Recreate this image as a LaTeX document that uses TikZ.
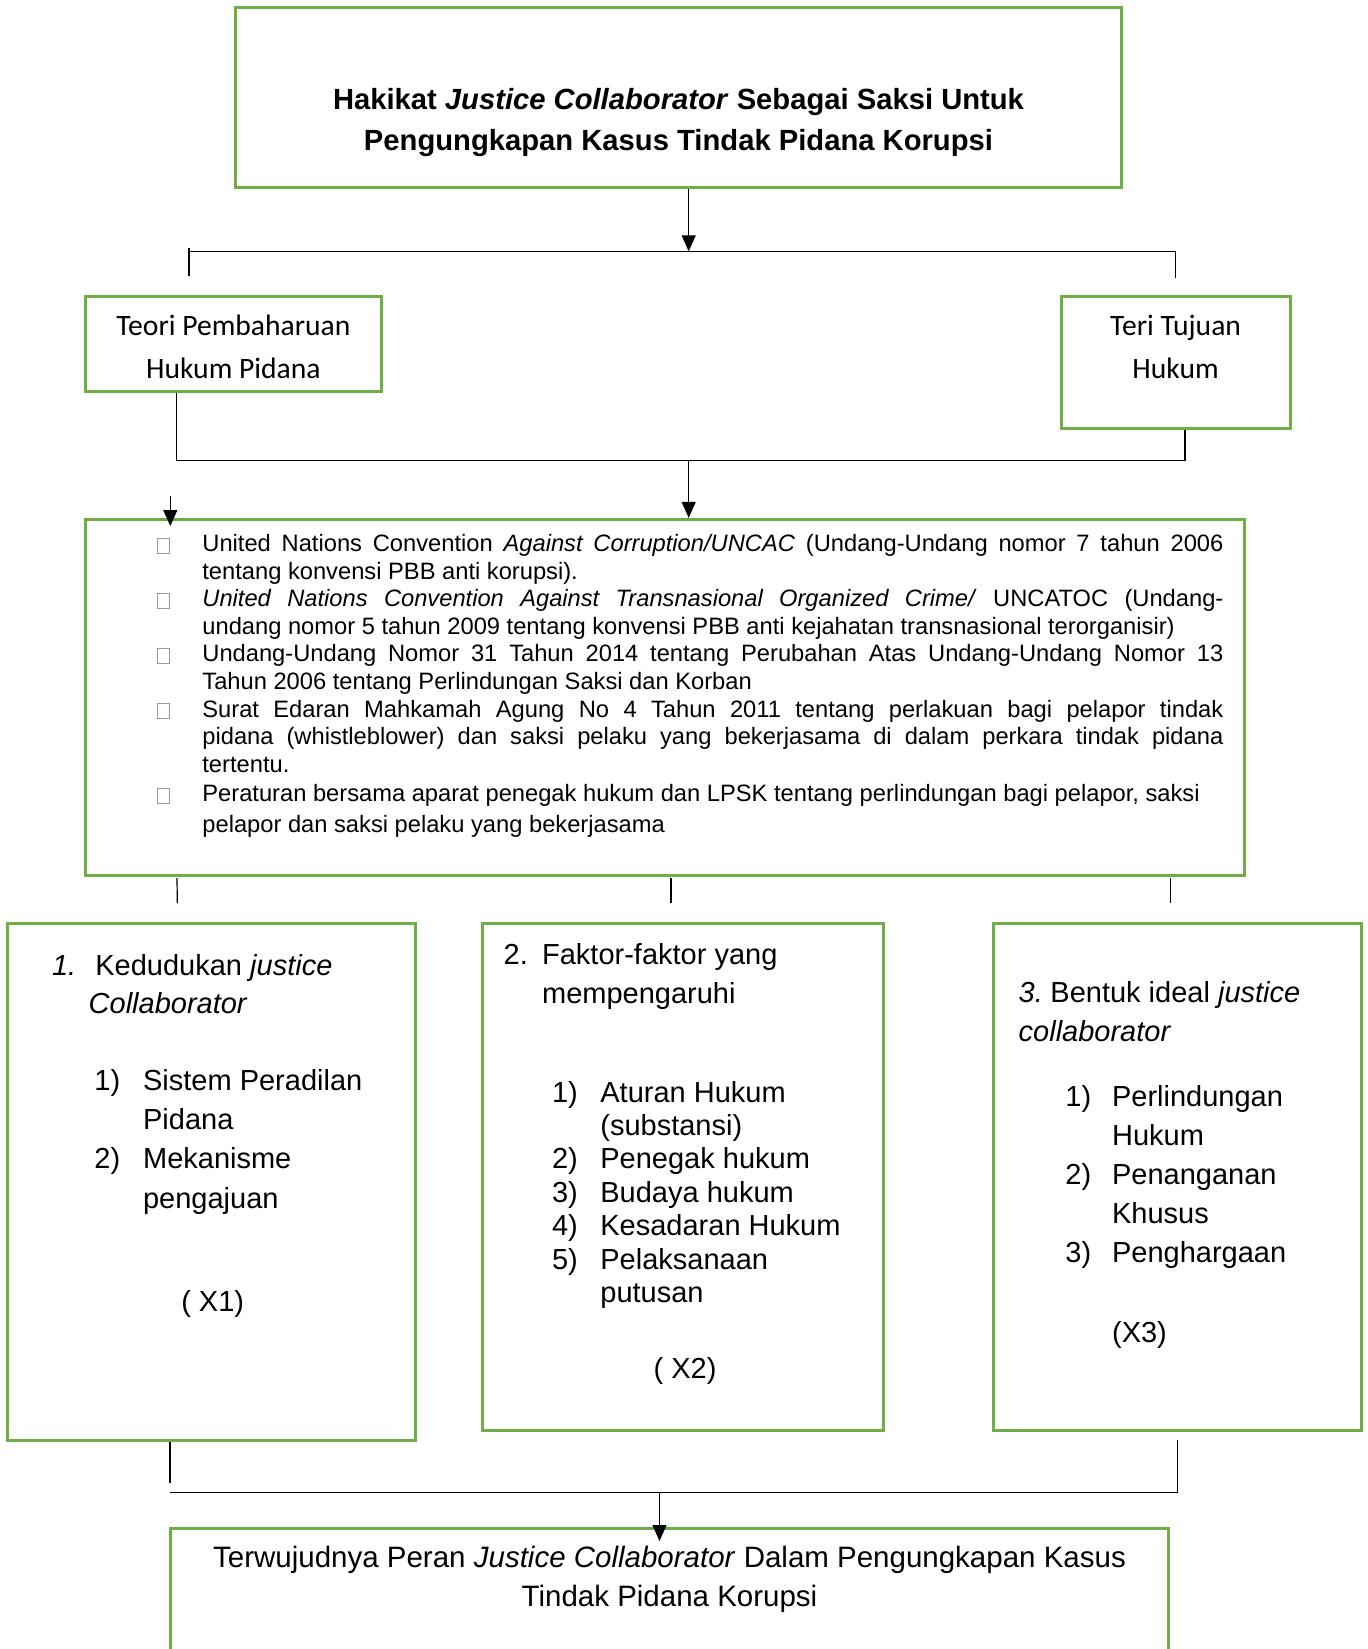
\documentclass[tikz,border=0pt]{standalone}
\usepackage{fontspec}
\setmainfont{Liberation Sans}
\newfontfamily\calibfont{Carlito}
\usetikzlibrary{arrows.meta,fit,calc}
\definecolor{jgreen}{HTML}{70AD47}
\hyphenpenalty=10000
\exhyphenpenalty=10000
\tolerance=9999
\begin{document}
\begin{tikzpicture}[x=0.5pt,y=-0.5pt,
  gbox/.style={draw=jgreen,line width=1.5pt,inner sep=0pt},
  conn/.style={draw=black,line width=0.6pt},
  arr/.style={conn,-{Triangle[length=8pt,width=7pt]}},
  ttl/.style={font=\fontsize{14.6}{17}\selectfont\bfseries,inner sep=0pt},
  cal/.style={font=\calibfont\fontsize{14.8}{17}\selectfont,inner sep=0pt},
  big/.style={font=\fontsize{14.5}{17}\selectfont,inner sep=0pt,anchor=base west},
  bul/.style={font=\fontsize{11.85}{13.8}\selectfont,text width=510.5pt,align=justify,inner sep=0pt,anchor=base west},
  sq/.style={draw=gray!80,line width=0.4pt,minimum width=6pt,minimum height=7.5pt,inner sep=0pt}
]
\useasboundingbox (0,0) rectangle (1367,1649);

% ---------- top box ----------
\node[gbox,fit={(235.5,7.4) (1121,187.2)}] (top) {};
\node[ttl,anchor=base] (t1) at (678.5,109.5) {Hakikat \textit{Justice Collaborator} Sebagai Saksi Untuk};
\node[ttl,anchor=base] (t2) at (678.5,150) {Pengungkapan Kasus Tindak Pidana Korupsi};

% ---------- first bus ----------
\coordinate (b1L) at (189,251.3);
\coordinate (b1M) at (688.7,251.3);
\coordinate (b1R) at (1175.6,251.3);
\coordinate (k1a) at (189,248);
\coordinate (k1b) at (189,276);
\coordinate (k2b) at (1175.6,277.6);
\draw[arr] (top.south -| b1M) -- (b1M);
\draw[conn] (b1L) -- (b1R);
\draw[conn] (k1a) -- (k1b);
\draw[conn] (b1R) -- (k2b);

% ---------- theory boxes ----------
\node[gbox,fit={(85,296) (381.7,391.5)}] (lb) {};
\node[cal,anchor=base] (lb1) at (233.4,335) {Teori Pembaharuan};
\node[cal,anchor=base] (lb2) at (233.4,378) {Hukum Pidana};
\node[gbox,fit={(1061.5,296) (1290,428.3)}] (rb) {};
\node[cal,anchor=base] (rb1) at (1175.6,335) {Teri Tujuan};
\node[cal,anchor=base] (rb2) at (1175.6,378) {Hukum};

% ---------- second bus ----------
\coordinate (b2L) at (176.5,460.8);
\coordinate (b2M) at (688.7,460.8);
\coordinate (b2R) at (1185,460.8);
\coordinate (sa) at (170.3,496);
\coordinate (sb) at (170.3,526);
\draw[conn] (lb.south -| b2L) -- (b2L) -- (b2R) -- (rb.south -| b2R);

% ---------- big box ----------
\node[gbox,fit={(85,519.4) (1244,875)}] (big) {};
\draw[arr] (b2M) -- (big.north -| b2M);
\draw[arr] (sa) -- (sb);

\node[sq] (s1) at (163,545.5) {};
\node[bul] (p1) at (202,551.5) {United Nations Convention \textit{Against Corruption/UNCAC} (Undang-Undang nomor 7 tahun 2006\linebreak tentang konvensi PBB anti korupsi).};
\node[sq] (s2) at (163,600.7) {};
\node[bul] (p2) at (202,606.7) {\textit{United Nations Convention Against Transnasional Organized Crime/} UNCATOC (Undang-\linebreak undang nomor 5 tahun 2009 tentang konvensi PBB anti kejahatan transnasional terorganisir)};
\node[sq] (s3) at (163,655.9) {};
\node[bul] (p3) at (202,661.9) {Undang-Undang Nomor 31 Tahun 2014 tentang Perubahan Atas Undang-Undang Nomor 13\linebreak Tahun 2006 tentang Perlindungan Saksi dan Korban};
\node[sq] (s4) at (163,711.1) {};
\node[bul] (p4) at (202,717.1) {Surat Edaran Mahkamah Agung No 4 Tahun 2011 tentang perlakuan bagi pelapor tindak\linebreak pidana (whistleblower) dan saksi pelaku yang bekerjasama di dalam perkara tindak pidana\linebreak tertentu.};
\node[sq] (s5) at (163,795.4) {};
\node[bul,font=\fontsize{11.85}{15.75}\selectfont] (p5) at (202,801.4) {Peraturan bersama aparat penegak hukum dan LPSK tentang perlindungan bagi pelapor, saksi\\ pelapor dan saksi pelaku yang bekerjasama};

% ---------- ticks ----------
\coordinate (u1a) at (177,878);   \coordinate (u1b) at (177.3,903);
\coordinate (u2a) at (670.9,878); \coordinate (u2b) at (670.9,903);
\coordinate (u3a) at (1170.3,878);\coordinate (u3b) at (1170.3,903);
\draw[conn] (u1a) -- (u1b);
\draw[conn] (u2a) -- (u2b);
\draw[conn] (u3a) -- (u3b);

% ---------- box 1 ----------
\node[gbox,fit={(7.5,923.8) (415,1440.7)}] (x1) {};
\node[big] (x1n) at (51.7,975) {\textit{1.}};
\node[big] (x1h) at (95,975) {Kedudukan \textit{justice}};
\node[big] (x1h2) at (88.3,1013.5) {\textit{Collaborator}};
\node[big] (x1a) at (94,1090.5) {1)};
\node[big] (x1at) at (142.7,1090.5) {Sistem Peradilan};
\node[big] (x1at2) at (142.7,1129.5) {Pidana};
\node[big] (x1b) at (94,1168) {2)};
\node[big] (x1bt) at (142.7,1168) {Mekanisme};
\node[big] (x1bt2) at (142.7,1208) {pengajuan};
\node[big] (x1v) at (180.9,1311) {( X1)};

% ---------- box 2 ----------
\node[gbox,fit={(482,923.8) (883.3,1430.5)}] (x2) {};
\node[big] (x2n) at (503.3,964.5) {2.};
\node[big] (x2h) at (541.7,964.5) {Faktor-faktor yang};
\node[big] (x2h2) at (541.7,1003.3) {mempengaruhi};
\node[big] (x2a) at (551.7,1102) {1)};
\node[big] (x2at) at (600,1102) {Aturan Hukum};
\node[big] (x2at2) at (600,1135.4) {(substansi)};
\node[big] (x2b) at (551.7,1168.8) {2)};
\node[big] (x2bt) at (600,1168.8) {Penegak hukum};
\node[big] (x2c) at (551.7,1202.2) {3)};
\node[big] (x2ct) at (600,1202.2) {Budaya hukum};
\node[big] (x2d) at (551.7,1235.6) {4)};
\node[big] (x2dt) at (600,1235.6) {Kesadaran Hukum};
\node[big] (x2e) at (551.7,1269) {5)};
\node[big] (x2et) at (600,1269) {Pelaksanaan};
\node[big] (x2et2) at (600,1302.4) {putusan};
\node[big] (x2v) at (653.3,1378) {( X2)};

% ---------- box 3 ----------
\node[gbox,fit={(993.7,923.8) (1361,1430.3)}] (x3) {};
\node[big] (x3n) at (1018.3,1002) {\textit{3.}};
\node[big] (x3h) at (1050,1002) {Bentuk ideal \textit{justice}};
\node[big] (x3h2) at (1018.3,1041.3) {\textit{collaborator}};
\node[big] (x3a) at (1065,1106.5) {1)};
\node[big] (x3at) at (1111.7,1106.5) {Perlindungan};
\node[big] (x3at2) at (1111.7,1145.5) {Hukum};
\node[big] (x3b) at (1065,1184.5) {2)};
\node[big] (x3bt) at (1111.7,1184.5) {Penanganan};
\node[big] (x3bt2) at (1111.7,1223.5) {Khusus};
\node[big] (x3c) at (1065,1262.5) {3)};
\node[big] (x3ct) at (1111.7,1262.5) {Penghargaan};
\node[big] (x3v) at (1111.7,1342.5) {(X3)};

% ---------- bottom bus ----------
\coordinate (b3L) at (170,1492.7);
\coordinate (b3M) at (659.5,1492.7);
\coordinate (b3R) at (1178,1492.7);
\coordinate (v1b) at (170,1483);
\coordinate (v3a) at (1177.7,1440.3);
\coordinate (v3b) at (1177.7,1492.7);
\coordinate (tipb) at (659.5,1541);
\draw[conn] (x1.south -| v1b) -- (v1b);
\draw[conn] (b3L) -- (b3R);
\draw[conn] (v3a) -- (v3b);

% ---------- bottom box ----------
\begin{scope}
\clip (0,0) rectangle (1367,1649);
\node[gbox,fit={(170,1528.7) (1168.3,1700)}] (bot) {};
\end{scope}
\draw[arr] (b3M) -- (tipb);
\node[big,anchor=base,font=\fontsize{14.75}{17}\selectfont] (bt1) at (669.5,1567.5) {Terwujudnya Peran \textit{Justice Collaborator} Dalam Pengungkapan Kasus};
\node[big,anchor=base,font=\fontsize{14.75}{17}\selectfont] (bt2) at (669.5,1606.5) {Tindak Pidana Korupsi};
\end{tikzpicture}
\end{document}
